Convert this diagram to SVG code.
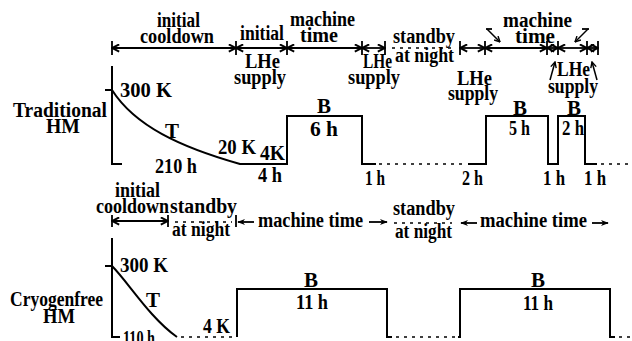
<svg xmlns="http://www.w3.org/2000/svg" width="632" height="341" viewBox="0 0 632 341">
<style>
.t{font-family:"Liberation Serif","Times New Roman",serif;font-weight:bold;font-size:20px;fill:#000}
.b{font-size:21px}
.s{stroke:#000;stroke-width:2;fill:none}
.d{stroke:#000;stroke-width:1.6;stroke-dasharray:3 5;fill:none}
.dim{stroke:#000;stroke-width:1.8;fill:none;marker-start:url(#ch);marker-end:url(#ch)}
.tk{stroke:#000;stroke-width:1.8;fill:none}
.ar{stroke:#000;stroke-width:1.8;fill:none;marker-end:url(#fa)}
.sa{stroke:#000;stroke-width:1.5;fill:none;marker-end:url(#sm)}
</style>
<defs>
<marker id="ch" viewBox="0 0 10 10" refX="9" refY="5" markerWidth="9" markerHeight="9" markerUnits="userSpaceOnUse" orient="auto-start-reverse"><path d="M1,1 L9,5 L1,9" fill="none" stroke="#000" stroke-width="2.2"/></marker>
<marker id="fa" viewBox="0 0 10 10" refX="9" refY="5" markerWidth="8" markerHeight="8" markerUnits="userSpaceOnUse" orient="auto"><path d="M0,1 L10,5 L0,9 L3,5 z" fill="#000"/></marker>
<marker id="sm" viewBox="0 0 10 10" refX="9" refY="5" markerWidth="7" markerHeight="7" markerUnits="userSpaceOnUse" orient="auto"><path d="M1,1 L9,5 L1,9" fill="none" stroke="#000" stroke-width="2"/></marker>
</defs>

<g id="connectors">
<g id="top-dims">
<line class="dim" x1="112" y1="48" x2="236" y2="48"/>
<line class="dim" x1="236" y1="48" x2="287" y2="48"/>
<line class="dim" x1="287" y1="48" x2="362" y2="48"/>
<line class="dim" x1="362" y1="48" x2="385" y2="48"/>
<path class="d" d="M392,48 H455" stroke-dasharray="2.5 4"/>
<line class="dim" x1="460" y1="48" x2="485" y2="48"/>
<line class="dim" x1="485" y1="48" x2="547" y2="48"/>
<line class="dim" x1="547" y1="48" x2="558" y2="48"/>
<line class="dim" x1="558" y1="48" x2="587" y2="48"/>
<line class="dim" x1="587" y1="48" x2="598" y2="48"/>
<path class="tk" d="M112,41 V55 M236,41 V55 M287,41 V55 M362,41 V55 M385,41 V55 M460,41 V55 M485,41 V55 M547,41 V55 M558,41 V55 M587,41 V55 M598,41 V55"/>
<path class="sa" d="M487,29 L500,42"/>
<path class="tk" stroke-width="1.5" d="M486,29 H492"/>
<path class="sa" d="M588,29 L575,42"/>
<path class="tk" stroke-width="1.5" d="M582,29 H589"/>
<path class="sa" d="M550,80 L555,62"/>
<path class="sa" d="M597,80 L592,62"/>
</g>
<g id="bottom-dims">
<line class="dim" x1="112" y1="221" x2="168" y2="221"/>
<path class="d" d="M175,222 H232" stroke-dasharray="2.5 4"/>
<path class="tk" d="M112,215 V227 M168,215 V227 M236,215 V227"/>
<path class="ar" d="M254,222 H238"/>
<path class="ar" d="M369,222 H387"/>
<path class="d" d="M394,223 H452" stroke-dasharray="2.5 4"/>
<path class="ar" d="M477,223 H461"/>
<path class="ar" d="M592,223 H608"/>
</g>
</g>

<g id="traditional-plot">
<path class="s" d="M112,66 V164 H122"/>
<path class="s" d="M105,90 H112"/>
<path class="s" d="M112,90 C135,126 180,147 240,164 H287 V116 H362 V164 H376"/>
<path class="d" d="M379,164 H466"/>
<path class="s" d="M468,164 H486 V116 H548 V164 H558 V116 H585 V164 H597"/>
<path class="d" d="M601,164 H632"/>
</g>

<g id="cryogenfree-plot">
<path class="s" d="M112,238 V337 H120"/>
<path class="s" d="M105,266 H112"/>
<path class="s" d="M112,266 C128,282 150,318 177,337"/>
<path class="d" d="M181,337 H234"/>
<path class="s" d="M237,337 V289 H387 V337 H392"/>
<path class="d" d="M396,337 H456"/>
<path class="s" d="M458,337 H460 V289 H610 V337 H615"/>
<path class="d" d="M619,337 H632"/>
</g>

<g id="labels-top">
<text class="t" x="157" y="27" textLength="43" lengthAdjust="spacingAndGlyphs">initial</text>
<text class="t" x="140" y="43" textLength="74" lengthAdjust="spacingAndGlyphs">cooldown</text>
<text class="t" x="240" y="40" textLength="44" lengthAdjust="spacingAndGlyphs">initial</text>
<text class="t" x="245" y="68" textLength="35" lengthAdjust="spacingAndGlyphs">LHe</text>
<text class="t" x="234" y="84" textLength="52" lengthAdjust="spacingAndGlyphs">supply</text>
<text class="t" x="290" y="26" textLength="65" lengthAdjust="spacingAndGlyphs">machine</text>
<text class="t" x="300" y="42" textLength="38" lengthAdjust="spacingAndGlyphs">time</text>
<text class="t" x="363" y="68" textLength="29" lengthAdjust="spacingAndGlyphs">LHe</text>
<text class="t" x="348" y="84" textLength="52" lengthAdjust="spacingAndGlyphs">supply</text>
<text class="t" x="393" y="43" textLength="62" lengthAdjust="spacingAndGlyphs">standby</text>
<text class="t" x="395" y="62" textLength="59" lengthAdjust="spacingAndGlyphs">at night</text>
<text class="t" x="457" y="85" textLength="35" lengthAdjust="spacingAndGlyphs">LHe</text>
<text class="t" x="448" y="100" textLength="50" lengthAdjust="spacingAndGlyphs">supply</text>
<text class="t" x="503" y="27" textLength="69" lengthAdjust="spacingAndGlyphs">machine</text>
<text class="t" x="515" y="43" textLength="40" lengthAdjust="spacingAndGlyphs">time</text>
<text class="t" x="557" y="76" textLength="33" lengthAdjust="spacingAndGlyphs">LHe</text>
<text class="t" x="548" y="93" textLength="50" lengthAdjust="spacingAndGlyphs">supply</text>

<text class="t" x="13" y="117" textLength="94" lengthAdjust="spacingAndGlyphs">Traditional</text>
<text class="t" x="46" y="133" textLength="34" lengthAdjust="spacingAndGlyphs">HM</text>
<text class="t b" x="120" y="97" textLength="52" lengthAdjust="spacingAndGlyphs">300 K</text>
<text class="t b" x="172" y="138" text-anchor="middle">T</text>
<text class="t" x="218" y="154" textLength="38" lengthAdjust="spacingAndGlyphs">20 K</text>
<text class="t" x="260" y="160" textLength="25" lengthAdjust="spacingAndGlyphs">4K</text>
<text class="t" x="155" y="173" textLength="42" lengthAdjust="spacingAndGlyphs">210 h</text>
<text class="t" x="258" y="182" textLength="24" lengthAdjust="spacingAndGlyphs">4 h</text>
<text class="t b" x="324" y="113" text-anchor="middle">B</text>
<text class="t" x="310" y="136" textLength="28" lengthAdjust="spacingAndGlyphs">6 h</text>
<text class="t b" x="520" y="115" text-anchor="middle">B</text>
<text class="t" x="509" y="135" textLength="21" lengthAdjust="spacingAndGlyphs">5 h</text>
<text class="t b" x="574" y="115" text-anchor="middle">B</text>
<text class="t" x="562" y="135" textLength="22" lengthAdjust="spacingAndGlyphs">2 h</text>
<text class="t" x="365" y="185" textLength="20" lengthAdjust="spacingAndGlyphs">1 h</text>
<text class="t" x="462" y="185" textLength="21" lengthAdjust="spacingAndGlyphs">2 h</text>
<text class="t" x="543" y="185" textLength="22" lengthAdjust="spacingAndGlyphs">1 h</text>
<text class="t" x="584" y="185" textLength="22" lengthAdjust="spacingAndGlyphs">1 h</text>
</g>

<g id="labels-bottom">
<text class="t" x="115" y="197" textLength="45" lengthAdjust="spacingAndGlyphs">initial</text>
<text class="t" x="96" y="213" textLength="73" lengthAdjust="spacingAndGlyphs">cooldown</text>
<text class="t" x="170" y="213" textLength="67" lengthAdjust="spacingAndGlyphs">standby</text>
<text class="t" x="172" y="236" textLength="58" lengthAdjust="spacingAndGlyphs">at night</text>
<text class="t" x="258" y="227" textLength="105" lengthAdjust="spacingAndGlyphs">machine time</text>
<text class="t" x="393" y="215" textLength="62" lengthAdjust="spacingAndGlyphs">standby</text>
<text class="t" x="395" y="238" textLength="57" lengthAdjust="spacingAndGlyphs">at night</text>
<text class="t" x="480" y="227" textLength="107" lengthAdjust="spacingAndGlyphs">machine time</text>

<text class="t" x="10" y="306" textLength="93" lengthAdjust="spacingAndGlyphs">Cryogenfree</text>
<text class="t" x="43" y="323" textLength="32" lengthAdjust="spacingAndGlyphs">HM</text>
<text class="t b" x="120" y="272" textLength="48" lengthAdjust="spacingAndGlyphs">300 K</text>
<text class="t b" x="153" y="307" text-anchor="middle">T</text>
<text class="t" x="203" y="333" textLength="27" lengthAdjust="spacingAndGlyphs">4 K</text>
<text class="t" x="123" y="345" textLength="32" lengthAdjust="spacingAndGlyphs">110 h</text>
<text class="t b" x="311" y="287" text-anchor="middle">B</text>
<text class="t" x="296" y="309" textLength="32" lengthAdjust="spacingAndGlyphs">11 h</text>
<text class="t b" x="538" y="287" text-anchor="middle">B</text>
<text class="t" x="523" y="310" textLength="30" lengthAdjust="spacingAndGlyphs">11 h</text>
</g>
</svg>
